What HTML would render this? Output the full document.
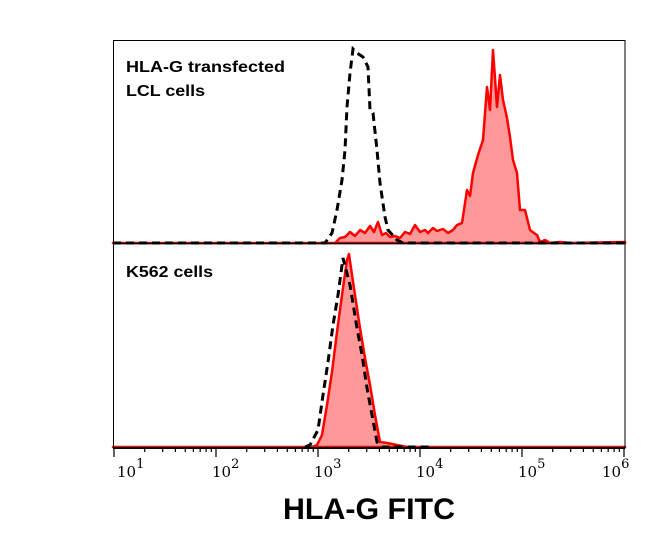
<!DOCTYPE html>
<html><head><meta charset="utf-8"><style>body{margin:0;background:#fff}svg{display:block}</style></head><body>
<svg width="646" height="538" xmlns="http://www.w3.org/2000/svg">
<rect x="0" y="0" width="646" height="538" fill="#fff"/>
<defs>
<g id="dec" stroke="#000" stroke-width="1.2">
<line x1="0" y1="448" x2="0" y2="457"/>
<line x1="30.7" y1="448" x2="30.7" y2="452"/>
<line x1="48.7" y1="448" x2="48.7" y2="452"/>
<line x1="61.4" y1="448" x2="61.4" y2="452"/>
<line x1="71.3" y1="448" x2="71.3" y2="452"/>
<line x1="79.4" y1="448" x2="79.4" y2="452"/>
<line x1="86.2" y1="448" x2="86.2" y2="452"/>
<line x1="92.1" y1="448" x2="92.1" y2="452"/>
<line x1="97.3" y1="448" x2="97.3" y2="452"/>
</g>
</defs>
<!-- top panel red -->
<path d="M113,243 L335,243 L340,238 L345,237 L350,232 L355,236 L360,230 L365,233 L370,226 L374,232 L378,222 L382,235 L386,233 L390,237 L395,236 L400,238 L405,232 L410,234 L415,225 L420,232 L425,230 L428,233 L433,228 L437,231 L443,229 L448,233 L453,230 L457,225 L462,223 L467,190 L470,196 L473,173 L478,155 L483,140 L487,87 L490,110 L493,50 L497,107 L500,75 L503,100 L507,118 L510,137 L513,160 L517,173 L520,210 L525,210 L530,230 L534,233 L537,235 L540,242 L545,240 L550,243 L560,242 L570,243 L625,242 L625,243 Z" fill="#ff9999" stroke="#ff0000" stroke-width="2.5" stroke-linejoin="round"/>
<path d="M113,243 L325,243 L332,233 L337,210 L342,180 L345,150 L347,107 L350,73 L353,49 L357,53 L363,57 L368,67 L370,110 L373,113 L377,150 L380,183 L385,217 L388,230 L397,240 L403,243 L625,243" fill="none" stroke="#000" stroke-width="3" stroke-dasharray="8,5"/>
<!-- bottom panel -->
<path d="M113,447 L312,447 L317,445 L322,435 L327,405 L332,372 L337,332 L342,295 L347,260 L349,254 L352,275 L355,295 L360,328 L365,358 L370,385 L375,415 L380,442 L387,443 L397,445 L407,447 L625,447 Z" fill="#ff9999" stroke="#ff0000" stroke-width="2.5" stroke-linejoin="round"/>
<path d="M305,447 L310,445 L318,430 L323,395 L328,362 L333,325 L338,295 L343,258 L350,285 L357,328 L362,355 L367,388 L372,415 L377,442 L382,447 L430,447" fill="none" stroke="#000" stroke-width="3" stroke-dasharray="8,5"/>
<!-- frame -->
<rect x="113.5" y="40.5" width="511.5" height="407.5" fill="none" stroke="#000" stroke-width="1"/>
<line x1="113" y1="243.5" x2="625" y2="243.5" stroke="#000" stroke-width="1.5"/>
<line x1="113" y1="448" x2="625" y2="448" stroke="#000" stroke-width="2"/>
<use href="#dec" x="114"/>
<use href="#dec" x="216"/>
<use href="#dec" x="318"/>
<use href="#dec" x="420"/>
<use href="#dec" x="522"/>
<line x1="624" y1="448" x2="624" y2="457" stroke="#000" stroke-width="1.2"/>
<g font-family="Liberation Sans, sans-serif" font-weight="bold" font-size="16" fill="#000">
<text x="126" y="72" textLength="159" lengthAdjust="spacingAndGlyphs">HLA-G transfected</text>
<text x="126" y="96" textLength="79" lengthAdjust="spacingAndGlyphs">LCL cells</text>
<text x="126" y="277" textLength="87" lengthAdjust="spacingAndGlyphs">K562 cells</text>
</g>
<g font-family="DejaVu Serif, serif" font-size="15" fill="#000">
<text x="117" y="477">10<tspan dy="-9" font-size="13">1</tspan></text>
<text x="212" y="477">10<tspan dy="-9" font-size="13">2</tspan></text>
<text x="314" y="477">10<tspan dy="-9" font-size="13">3</tspan></text>
<text x="416" y="477">10<tspan dy="-9" font-size="13">4</tspan></text>
<text x="518" y="477">10<tspan dy="-9" font-size="13">5</tspan></text>
<text x="602" y="477">10<tspan dy="-9" font-size="13">6</tspan></text>
</g>
<text x="283" y="519" font-family="Liberation Sans, sans-serif" font-weight="bold" font-size="30" textLength="172" lengthAdjust="spacingAndGlyphs">HLA-G FITC</text>
</svg>
</body></html>
